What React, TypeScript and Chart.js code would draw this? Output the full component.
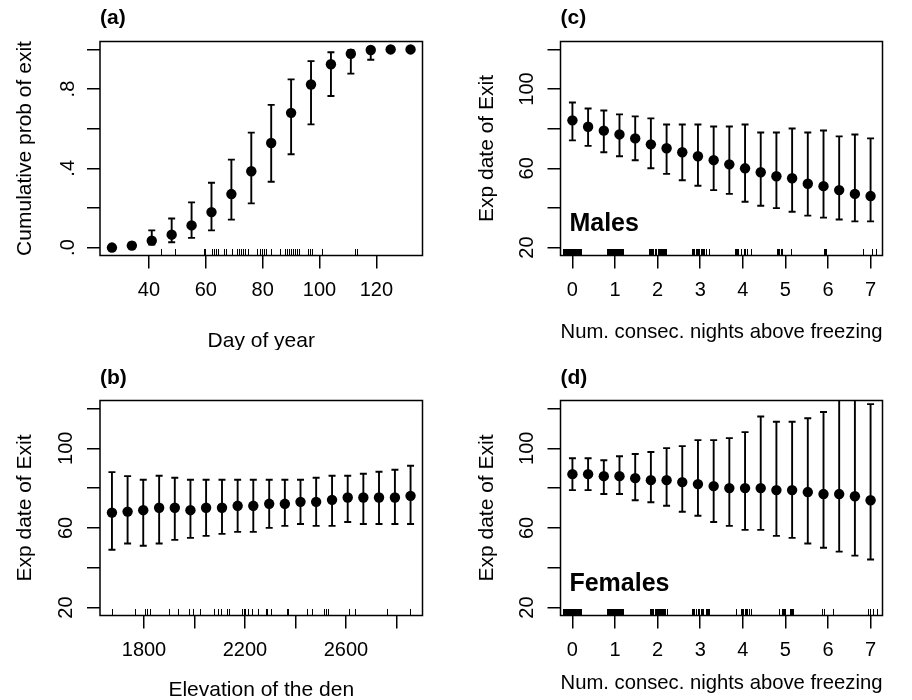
import React, { useEffect, useRef } from 'react';
import { Chart, registerables } from 'chart.js';

Chart.register(...registerables);

const FONT = "'Liberation Sans', Arial, Helvetica, sans-serif";

// ---------- Panel (a): cumulative probability of exit ----------
const dayOfYear = [27, 34, 41, 48, 55, 62, 69, 76, 83, 90, 97, 104, 111, 118, 125, 132];
const cumProbExit = [0.0, 0.01, 0.035, 0.065, 0.112, 0.179, 0.27, 0.385, 0.528, 0.68, 0.823, 0.925, 0.978, 0.997, 1.0, 1.0];
const cumProbLower = [0.0, 0.004, 0.015, 0.027, 0.049, 0.087, 0.141, 0.223, 0.332, 0.471, 0.622, 0.765, 0.878, 0.948, 0.99, 0.995];
const cumProbUpper = [0.004, 0.025, 0.087, 0.147, 0.228, 0.327, 0.444, 0.58, 0.72, 0.849, 0.941, 0.986, 0.996, 1.0, 1.0, 1.0];
const exitDayRug = [44.3, 49.3, 59.2, 59.8, 62.1, 62.8, 63.5, 64.2, 66.3, 67, 69.1, 71, 71.7, 72.4, 73.1, 73.8, 74.7, 78, 78.9, 79.6, 80.4, 81, 82.9, 86, 87.9, 88.6, 89.3, 90, 90.7, 91.4, 92.1, 92.8, 95.8, 96.5, 97.2, 100.8, 112.3, 113];
const dayTicks = [40, 60, 80, 100, 120];
const dayTickLabels = ['40', '60', '80', '100', '120'];
const probTicks = [0, 0.2, 0.4, 0.6, 0.8, 1.0];
const probTickLabels = ['.0', '', '.4', '', '.8', ''];

// ---------- Panel (b): elevation of the den ----------
const denElevation = [1673, 1735, 1797, 1860, 1922, 1984, 2046, 2109, 2171, 2233, 2296, 2358, 2420, 2482, 2545, 2607, 2669, 2731, 2794, 2856];
const expExitElev = [67.7, 68.2, 68.9, 70.1, 70.1, 68.9, 70.1, 70.1, 71.1, 71.1, 72.1, 72.1, 73.1, 73.1, 74.1, 75.3, 75.3, 75.3, 75.3, 76.1];
const expExitElevUpper = [88.0, 86.0, 84.2, 86.2, 85.2, 84.2, 84.2, 84.2, 84.2, 84.2, 84.2, 84.2, 84.2, 85.2, 86.2, 86.2, 87.2, 88.2, 89.2, 91.2];
const expExitElevLower = [49.0, 52.2, 51.0, 52.2, 54.0, 55.0, 56.0, 57.0, 58.0, 58.0, 60.0, 61.0, 62.0, 61.0, 61.0, 63.0, 62.0, 62.0, 62.0, 62.0];
const elevationRug = [1672, 1764, 1804, 1811, 1824, 1899, 1936, 1978, 1995, 2022, 2078, 2094, 2107, 2130, 2135, 2187, 2196, 2202, 2213, 2229, 2250, 2283, 2288, 2305, 2365, 2370, 2446, 2464, 2514, 2520, 2527, 2612, 2635, 2764, 2855];
const elevTicks = [1800, 2000, 2200, 2400, 2600, 2800];
const elevTickLabels = ['1800', '', '2200', '', '2600', ''];

// ---------- Panels (c) and (d): nights above freezing ----------
const nightsAbove = [0, 0.368, 0.737, 1.105, 1.474, 1.842, 2.211, 2.579, 2.947, 3.316, 3.684, 4.053, 4.421, 4.789, 5.158, 5.526, 5.895, 6.263, 6.632, 7];
const expExitMales = [84.2, 81.0, 79.0, 77.1, 75.1, 72.1, 70.1, 68.1, 66.1, 64.1, 62.0, 60.0, 58.0, 56.0, 55.0, 52.2, 51.0, 49.0, 47.1, 46.0];
const expExitMalesUpper = [93.2, 90.2, 89.2, 87.2, 86.2, 85.2, 82.1, 82.1, 82.1, 81.1, 81.1, 82.1, 78.1, 78.1, 80.1, 78.1, 79.1, 76.1, 77.1, 75.1];
const expExitMalesLower = [74.1, 71.3, 68.1, 66.1, 64.1, 60.0, 57.2, 54.0, 51.2, 49.0, 47.1, 43.1, 41.1, 39.9, 38.1, 36.1, 35.1, 34.2, 33.2, 33.2];
const expExitFemales = [87.0, 87.0, 86.0, 86.0, 85.0, 84.0, 84.0, 83.0, 82.0, 81.0, 80.0, 80.0, 80.0, 79.0, 79.0, 78.0, 77.0, 77.0, 75.9, 73.9];
const expExitFemalesUpper = [95.0, 95.0, 94.0, 96.0, 97.1, 98.1, 100.1, 101.1, 104.1, 104.1, 105.1, 108.1, 116.0, 113.3, 113.3, 115.1, 118.2, 128, 132, 122.2];
const expExitFemalesLower = [79.0, 79.0, 77.0, 77.0, 73.9, 72.9, 71.1, 68.1, 66.1, 63.0, 61.0, 59.0, 59.0, 56.0, 55.0, 52.2, 50.0, 48.1, 46.1, 44.1];
const nightsMalesRug = [
  -0.21, -0.19, -0.17, -0.15, -0.13, -0.11, -0.09, -0.07, -0.05, -0.03, -0.01, 0.01, 0.03, 0.05, 0.07, 0.09, 0.11, 0.13, 0.15, 0.17, 0.19,
  0.81, 0.83, 0.85, 0.87, 0.89, 0.91, 0.93, 0.95, 0.97, 0.99, 1.01, 1.03, 1.05, 1.07, 1.09, 1.11, 1.13, 1.15, 1.17, 1.19,
  1.8, 1.82, 1.84, 1.86, 1.9, 1.93, 1.95, 1.97, 2.0, 2.03, 2.05, 2.07, 2.1, 2.13, 2.15, 2.18, 2.2,
  2.8, 2.83, 2.86, 2.89, 2.92, 2.95, 2.98, 3.01, 3.04, 3.07, 3.1, 3.14, 3.2,
  3.81, 3.83, 3.87, 3.89, 3.95, 4.02, 4.04, 4.1, 4.2,
  4.8, 4.83, 4.86, 4.89, 4.91, 5.14,
  5.9, 5.93, 5.96,
  6.82, 7.03, 7.13,
];
const nightsFemalesRug = [
  -0.21, -0.19, -0.17, -0.15, -0.13, -0.11, -0.09, -0.07, -0.05, -0.03, -0.01, 0.01, 0.03, 0.05, 0.07, 0.09, 0.11, 0.13, 0.15, 0.17, 0.19,
  0.81, 0.83, 0.85, 0.87, 0.89, 0.91, 0.93, 0.95, 0.97, 0.99, 1.01, 1.03, 1.05, 1.07, 1.09, 1.11, 1.13, 1.15, 1.17, 1.19,
  1.82, 1.84, 1.86, 1.88, 1.9, 1.93, 1.96, 1.98, 2.0, 2.03, 2.05, 2.08, 2.1, 2.13, 2.15, 2.18, 2.21,
  2.8, 2.83, 2.86, 2.9, 2.95, 2.98, 3.01, 3.04, 3.07, 3.13, 3.16, 3.19, 3.21,
  3.84, 3.96, 3.98, 4.01, 4.04, 4.07, 4.09, 4.15, 4.19,
  4.85, 4.91, 4.94, 4.97, 5.0, 5.1, 5.13, 5.16, 5.18,
  5.85, 5.91, 6.12,
  6.93, 6.99, 7.05, 7.14,
];
const nightTicks = [0, 1, 2, 3, 4, 5, 6, 7];
const nightTickLabels = ['0', '1', '2', '3', '4', '5', '6', '7'];
const exitTicks = [20, 40, 60, 80, 100, 120];
const exitTickLabels = ['20', '', '60', '', '100', ''];

type Geo = {
  cx: number; cy: number; cw: number; ch: number;
  L: number; T: number; R: number; B: number;
  titleY: number; yTitleX: number; xTitleY: number; yTickX: number; xTickY: number;
};

type PanelSpec = {
  geo: Geo;
  title: string; xTitle: string; yTitle: string;
  xs: number[]; ys: number[]; lo: number[]; hi: number[]; rug: number[];
  xMin: number; xMax: number; yMin: number; yMax: number;
  xTicks: number[]; xTickLabels: string[];
  yTicks: number[]; yTickLabels: string[];
  note?: { text: string; x: number; y: number };
};

const padRange = (a: number, b: number) => [a - (b - a) * 0.04, b + (b - a) * 0.04];
const [dayMin, dayMax] = padRange(27, 132);
const [probMin, probMax] = padRange(0, 1);
const [elevMin, elevMax] = padRange(1673, 2856);
const [nightMin, nightMax] = padRange(0, 7);
const [exitMin, exitMax] = padRange(20, 120);

const panels: PanelSpec[] = [
  {
    geo: { cx: 0, cy: 0, cw: 456, ch: 350, L: 100, T: 41.5, R: 422.5, B: 255.5, titleY: 18, yTitleX: 25, xTitleY: 341, yTickX: 68.3, xTickY: 290.5 },
    title: '(a)', xTitle: 'Day of year', yTitle: 'Cumulative prob of exit',
    xs: dayOfYear, ys: cumProbExit, lo: cumProbLower, hi: cumProbUpper, rug: exitDayRug,
    xMin: dayMin, xMax: dayMax, yMin: probMin, yMax: probMax,
    xTicks: dayTicks, xTickLabels: dayTickLabels, yTicks: probTicks, yTickLabels: probTickLabels,
  },
  {
    geo: { cx: 456, cy: 0, cw: 456, ch: 350, L: 560.5, T: 41.5, R: 882.5, B: 255.5, titleY: 18, yTitleX: 487, xTitleY: 332, yTickX: 527.7, xTickY: 290.5 },
    title: '(c)', xTitle: 'Num. consec. nights above freezing', yTitle: 'Exp date of Exit',
    xs: nightsAbove, ys: expExitMales, lo: expExitMalesLower, hi: expExitMalesUpper, rug: nightsMalesRug,
    xMin: nightMin, xMax: nightMax, yMin: exitMin, yMax: exitMax,
    xTicks: nightTicks, xTickLabels: nightTickLabels, yTicks: exitTicks, yTickLabels: exitTickLabels,
    note: { text: 'Males', x: -0.07, y: 28.3 },
  },
  {
    geo: { cx: 0, cy: 350, cw: 456, ch: 350, L: 100, T: 400.5, R: 422.5, B: 615.5, titleY: 378, yTitleX: 25, xTitleY: 690.5, yTickX: 66, xTickY: 650.3 },
    title: '(b)', xTitle: 'Elevation of the den', yTitle: 'Exp date of Exit',
    xs: denElevation, ys: expExitElev, lo: expExitElevLower, hi: expExitElevUpper, rug: elevationRug,
    xMin: elevMin, xMax: elevMax, yMin: exitMin, yMax: exitMax,
    xTicks: elevTicks, xTickLabels: elevTickLabels, yTicks: exitTicks, yTickLabels: exitTickLabels,
  },
  {
    geo: { cx: 456, cy: 350, cw: 456, ch: 350, L: 560.5, T: 400.5, R: 882.5, B: 615.5, titleY: 378, yTitleX: 487, xTitleY: 683, yTickX: 527.7, xTickY: 650.3 },
    title: '(d)', xTitle: 'Num. consec. nights above freezing', yTitle: 'Exp date of Exit',
    xs: nightsAbove, ys: expExitFemales, lo: expExitFemalesLower, hi: expExitFemalesUpper, rug: nightsFemalesRug,
    xMin: nightMin, xMax: nightMax, yMin: exitMin, yMax: exitMax,
    xTicks: nightTicks, xTickLabels: nightTickLabels, yTicks: exitTicks, yTickLabels: exitTickLabels,
    note: { text: 'Females', x: -0.07, y: 28.4 },
  },
];

function buildChart(canvas: HTMLCanvasElement, s: PanelSpec) {
  const g = s.geo;
  const TL = 13;
  const TICK_SIZE = 20;
  const TITLE_SIZE = 21;
  const titleHalf = (TITLE_SIZE * 1.2) / 2;
  const meas = document.createElement('canvas').getContext('2d') as CanvasRenderingContext2D;
  meas.font = `${TICK_SIZE}px ${FONT}`;
  const widest = Math.max(...s.yTickLabels.map((t) => meas.measureText(t).width));
  const yTickPad = g.L - g.yTickX - TL - widest / 2;
  const xTickPad = g.xTickY - g.B - TL - (TICK_SIZE * 1.2) / 2;
  const titleTop = g.titleY - g.cy - titleHalf;
  const titleBottom = g.T - g.cy - 2 * titleHalf - titleTop;

  const errorBars = {
    id: 'errorBars',
    beforeDatasetsDraw(chart: any) {
      const { ctx, chartArea } = chart;
      const xs = chart.scales.x;
      const ys = chart.scales.y;
      ctx.save();
      ctx.beginPath();
      ctx.rect(chartArea.left, chartArea.top, chartArea.right - chartArea.left, chartArea.bottom - chartArea.top);
      ctx.clip();
      ctx.strokeStyle = '#000';
      ctx.lineWidth = 1.9;
      const cap = 3.5;
      s.xs.forEach((xv, i) => {
        const px = xs.getPixelForValue(xv);
        const pl = ys.getPixelForValue(s.lo[i]);
        const ph = ys.getPixelForValue(s.hi[i]);
        ctx.beginPath();
        ctx.moveTo(px, pl);
        ctx.lineTo(px, ph);
        ctx.moveTo(px - cap, pl);
        ctx.lineTo(px + cap, pl);
        ctx.moveTo(px - cap, ph);
        ctx.lineTo(px + cap, ph);
        ctx.stroke();
      });
      ctx.restore();
    },
  };

  const rugAndFrame = {
    id: 'rugAndFrame',
    afterDatasetsDraw(chart: any) {
      const { ctx, chartArea } = chart;
      const xs = chart.scales.x;
      const ys = chart.scales.y;
      ctx.save();
      ctx.strokeStyle = '#000';
      ctx.lineWidth = 1;
      ctx.beginPath();
      s.rug.forEach((rv) => {
        const px = Math.round(xs.getPixelForValue(rv)) + 0.5;
        ctx.moveTo(px, chartArea.bottom);
        ctx.lineTo(px, chartArea.bottom - 6.5);
      });
      ctx.stroke();
      ctx.lineWidth = 1.5;
      ctx.strokeRect(chartArea.left, chartArea.top, chartArea.right - chartArea.left, chartArea.bottom - chartArea.top);
      if (s.note) {
        ctx.fillStyle = '#000';
        ctx.font = `bold 25px ${FONT}`;
        ctx.textAlign = 'left';
        ctx.textBaseline = 'alphabetic';
        ctx.fillText(s.note.text, xs.getPixelForValue(s.note.x), ys.getPixelForValue(s.note.y));
      }
      ctx.restore();
    },
  };

  const gridOpts = {
    display: true,
    drawOnChartArea: false,
    drawTicks: true,
    tickLength: TL,
    color: '#000',
    lineWidth: 1.5,
  };

  return new Chart(canvas, {
    type: 'scatter',
    data: {
      datasets: [
        {
          data: s.xs.map((x, i) => ({ x, y: s.ys[i] })),
          backgroundColor: '#000',
          borderColor: '#000',
          pointRadius: 5.2,
          pointHoverRadius: 5.2,
          pointBorderWidth: 0,
          showLine: false,
        },
      ],
    },
    options: {
      animation: false,
      responsive: false,
      devicePixelRatio: 1,
      events: [],
      layout: { padding: { left: 0, top: 0, right: g.cx + g.cw - g.R, bottom: 0 } },
      plugins: {
        legend: { display: false },
        tooltip: { enabled: false },
        title: {
          display: true,
          text: s.title,
          align: 'start',
          fullSize: false,
          color: '#000',
          font: { family: FONT, size: TITLE_SIZE, weight: 'bold' },
          padding: { top: titleTop, bottom: titleBottom },
        },
      },
      scales: {
        x: {
          type: 'linear',
          position: 'bottom',
          min: s.xMin,
          max: s.xMax,
          afterBuildTicks: (scale: any) => {
            scale.ticks = s.xTicks.map((v) => ({ value: v }));
          },
          afterFit: (scale: any) => {
            scale.height = g.cy + g.ch - g.B;
          },
          grid: gridOpts,
          border: { display: false },
          ticks: {
            autoSkip: false,
            maxRotation: 0,
            minRotation: 0,
            padding: xTickPad,
            color: '#000',
            font: { family: FONT, size: TICK_SIZE },
            callback: (_v: any, i: number) => s.xTickLabels[i],
          },
          title: {
            display: true,
            text: s.xTitle,
            color: '#000',
            font: { family: FONT, size: TITLE_SIZE },
            padding: { top: 0, bottom: g.cy + g.ch - titleHalf - g.xTitleY },
          },
        },
        y: {
          type: 'linear',
          position: 'left',
          min: s.yMin,
          max: s.yMax,
          afterBuildTicks: (scale: any) => {
            scale.ticks = s.yTicks.map((v) => ({ value: v }));
          },
          afterFit: (scale: any) => {
            scale.width = g.L - g.cx;
          },
          grid: gridOpts,
          border: { display: false },
          ticks: {
            autoSkip: false,
            minRotation: 90,
            maxRotation: 90,
            crossAlign: 'center',
            padding: yTickPad,
            color: '#000',
            font: { family: FONT, size: TICK_SIZE },
            callback: (_v: any, i: number) => s.yTickLabels[i],
          },
          title: {
            display: true,
            text: s.yTitle,
            color: '#000',
            font: { family: FONT, size: TITLE_SIZE },
            padding: { top: g.yTitleX - g.cx - titleHalf, bottom: 0 },
          },
        },
      },
    } as any,
    plugins: [errorBars, rugAndFrame],
  });
}

function Panel({ spec }: { spec: PanelSpec }) {
  const ref = useRef<HTMLCanvasElement | null>(null);
  useEffect(() => {
    if (!ref.current) return;
    const chart = buildChart(ref.current, spec);
    return () => chart.destroy();
  }, [spec]);
  const g = spec.geo;
  return (
    <canvas
      ref={ref}
      width={g.cw}
      height={g.ch}
      style={{ position: 'absolute', left: g.cx, top: g.cy, width: g.cw, height: g.ch }}
    />
  );
}

export default function App() {
  return (
    <div style={{ position: 'absolute', left: 0, top: 0, width: 912, height: 700, background: '#fff', overflow: 'hidden' }}>
      {panels.map((p) => (
        <Panel key={p.title} spec={p} />
      ))}
    </div>
  );
}
